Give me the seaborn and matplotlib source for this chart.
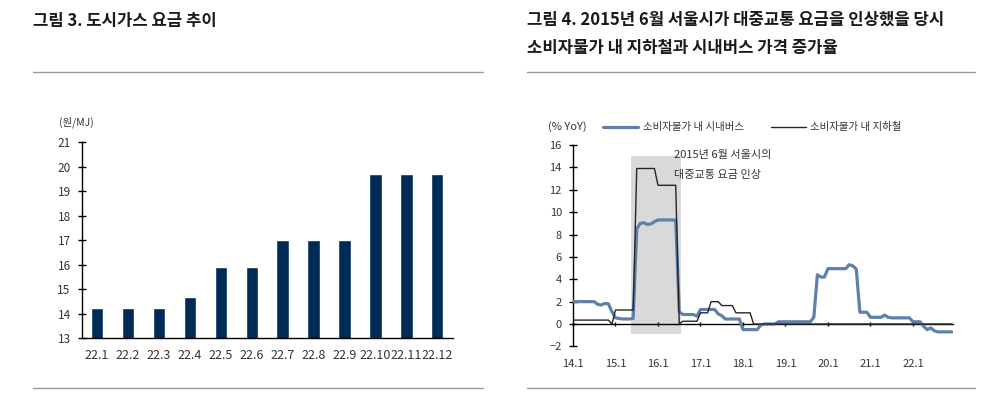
import matplotlib
matplotlib.use("Agg")
import matplotlib.pyplot as plt
import seaborn as sns
import pandas as pd
from matplotlib.patches import Rectangle
from matplotlib.lines import Line2D

sns.set_style("white")
plt.rcParams['font.family'] = ['Noto Sans CJK KR', 'DejaVu Sans']

# ---- data: city gas price (left) ----
gas_months = ["22.1", "22.2", "22.3", "22.4", "22.5", "22.6",
              "22.7", "22.8", "22.9", "22.10", "22.11", "22.12"]
gas_price = [14.22, 14.22, 14.22, 14.69, 15.92, 15.92,
             17.03, 17.03, 17.03, 19.69, 19.69, 19.69]

# ---- data: CPI bus / subway YoY, 2014.1 ~ 2022.12 (right) ----
year_labels = ["14.1", "15.1", "16.1", "17.1", "18.1", "19.1", "20.1", "21.1", "22.1"]
bus_yoy = [
    2.0, 2.0, 2.0, 2.0, 2.0, 2.0, 2.0, 1.75, 1.7, 1.85, 1.8, 1.1,        # 2014
    0.55, 0.5, 0.45, 0.45, 0.45, 0.5, 8.5, 9.0, 9.05, 8.9, 8.95, 9.15,  # 2015
    9.3, 9.3, 9.3, 9.3, 9.3, 9.3, 1.1, 0.85, 0.85, 0.85, 0.85, 0.7,     # 2016
    1.3, 1.3, 1.3, 1.3, 1.3, 0.9, 0.75, 0.45, 0.45, 0.45, 0.45, 0.45,   # 2017
    -0.5, -0.5, -0.5, -0.5, -0.5, -0.1, 0.0, 0.0, 0.0, 0.0, 0.2, 0.2,   # 2018
    0.2, 0.2, 0.2, 0.2, 0.2, 0.2, 0.2, 0.2, 0.6, 4.4, 4.2, 4.2,         # 2019
    4.95, 4.95, 4.95, 4.95, 4.95, 4.95, 5.3, 5.2, 4.9, 1.05, 1.05, 1.05,  # 2020
    0.6, 0.6, 0.6, 0.6, 0.8, 0.6, 0.55, 0.55, 0.55, 0.55, 0.55, 0.55,   # 2021
    0.2, 0.2, 0.2, -0.2, -0.5, -0.35, -0.6, -0.7, -0.7, -0.7, -0.7, -0.7,  # 2022
]
subway_yoy = [
    0.35, 0.35, 0.35, 0.35, 0.35, 0.35, 0.35, 0.35, 0.35, 0.35, 0.35, 0.0,
    1.25, 1.25, 1.25, 1.25, 1.25, 1.25, 13.9, 13.9, 13.9, 13.9, 13.9, 13.9,
    12.4, 12.4, 12.4, 12.4, 12.4, 12.4, 0.0, 0.25, 0.25, 0.25, 0.25, 0.25,
    1.0, 1.0, 1.0, 2.0, 2.0, 2.0, 1.65, 1.65, 1.65, 1.65, 1.0, 1.0,
    1.0, 1.0, 1.0, 0.0, 0.0, 0.0, 0.0, 0.0, 0.0, 0.0, 0.0, 0.0,
    0.0, 0.0, 0.0, 0.0, 0.0, 0.0, 0.0, 0.0, 0.0, 0.0, 0.0, 0.0,
    0.0, 0.0, 0.0, 0.0, 0.0, 0.0, 0.0, 0.0, 0.0, 0.0, 0.0, 0.0,
    0.0, 0.0, 0.0, 0.0, 0.0, 0.0, 0.0, 0.0, 0.0, 0.0, 0.0, 0.0,
    0.0, 0.0, 0.0, 0.0, 0.0, 0.0, 0.0, 0.0, 0.0, 0.0, 0.0, 0.0,
]
bus_name = "소비자물가 내 시내버스"
subway_name = "소비자물가 내 지하철"

txt = "#333333"
bus_col = "#5f81a9"
fig = plt.figure(figsize=(9.99, 3.93), dpi=100)

# titles and rules
fig.text(33/999, 1 - 21/393, "그림 3. 도시가스 요금 추이", fontsize=12, fontweight="bold",
         va="center", ha="left", color="#1a1a1a")
fig.text(527/999, 1 - 20/393, "그림 4. 2015년 6월 서울시가 대중교통 요금을 인상했을 당시",
         fontsize=12, fontweight="bold", va="center", ha="left", color="#1a1a1a")
fig.text(527/999, 1 - 48/393, "소비자물가 내 지하철과 시내버스 가격 증가율",
         fontsize=12, fontweight="bold", va="center", ha="left", color="#1a1a1a")
for x0, x1 in [(33, 483), (527, 975)]:
    for yy in (72, 388):
        fig.add_artist(Line2D([x0/999, x1/999], [1 - yy/393, 1 - yy/393],
                              color="#9a9a9a", lw=1))

# ---- left: bar chart ----
ax1 = fig.add_axes([81.7/999, 1 - 338.3/393, 371/999, 196/393])
gas_df = pd.DataFrame({"month": gas_months, "price": gas_price})
sns.barplot(data=gas_df, x="month", y="price", color="#002b55", width=0.4,
            saturation=1, ax=ax1)
ax1.set_ylim(13, 21)
ax1.set_xlim(-0.5, len(gas_months) - 0.5)
ax1.set_yticks(range(13, 22))
ax1.set_xlabel("")
ax1.set_ylabel("")
ax1.set_xticks([i - 0.5 for i in range(len(gas_months) + 1)], minor=True)
ax1.tick_params(axis="x", which="major", length=0, labelsize=9, colors=txt, pad=8)
ax1.tick_params(axis="x", which="minor", direction="inout", length=5, width=1, color="black")
ax1.tick_params(axis="y", direction="inout", length=6, width=1, color="black",
                labelsize=8.5, labelcolor=txt, pad=5, left=True)
for s in ["top", "right"]:
    ax1.spines[s].set_visible(False)
for s in ["left", "bottom"]:
    ax1.spines[s].set_color("black")
    ax1.spines[s].set_linewidth(1)
fig.text(59/999, 1 - 122/393, "(원/MJ)", fontsize=7.5, color=txt, va="center", ha="left")

# ---- right: line chart ----
ax2 = fig.add_axes([573/999, 1 - 346.4/393, 380/999, 201.4/393])
n = len(bus_yoy)
cpi_df = pd.DataFrame({"m": list(range(n)), "bus": bus_yoy, "subway": subway_yoy})
ax2.add_patch(Rectangle((16.5, -0.9), 14.0, 15.9, facecolor="#d9d9d9",
                        edgecolor="none", zorder=0))
sns.lineplot(data=cpi_df, x="m", y="bus", color=bus_col, lw=2.3, ax=ax2, zorder=3)
sns.lineplot(data=cpi_df, x="m", y="subway", color="#262626", lw=1.0, ax=ax2, zorder=4)
ax2.set_xlim(0, n - 0.7)
ax2.set_ylim(-2, 16)
ax2.set_yticks(range(-2, 17, 2))
ax2.set_xticks([12 * i for i in range(len(year_labels))])
ax2.set_xticklabels(year_labels)
ax2.set_xlabel("")
ax2.set_ylabel("")
ax2.spines["bottom"].set_position(("data", 0))
for s in ["top", "right"]:
    ax2.spines[s].set_visible(False)
for s in ["left", "bottom"]:
    ax2.spines[s].set_color("black")
    ax2.spines[s].set_linewidth(1)
ax2.tick_params(axis="x", direction="inout", length=3, width=1, color="black",
                labelsize=8, labelcolor=txt, pad=24, bottom=True)
ax2.tick_params(axis="y", direction="inout", length=6, width=1, color="black",
                labelsize=8, labelcolor=txt, pad=5, left=True)
ax2.text(28.5, 15.1, "2015년 6월 서울시의", fontsize=8, color=txt, va="center", ha="left")
ax2.text(28.5, 13.3, "대중교통 요금 인상", fontsize=8, color=txt, va="center", ha="left")

# legend row above the right chart
ly = 1 - 127/393
fig.text(548/999, ly, "(% YoY)", fontsize=8, color=txt, va="center", ha="left")
fig.add_artist(Line2D([603/999, 638/999], [ly, ly], color=bus_col, lw=2.3))
fig.text(643/999, ly, bus_name, fontsize=7.5, color=txt, va="center", ha="left")
fig.add_artist(Line2D([771/999, 806/999], [ly, ly], color="#262626", lw=1.0))
fig.text(810/999, ly, subway_name, fontsize=7.5, color=txt, va="center", ha="left")

fig.savefig("out.png", dpi=100)
